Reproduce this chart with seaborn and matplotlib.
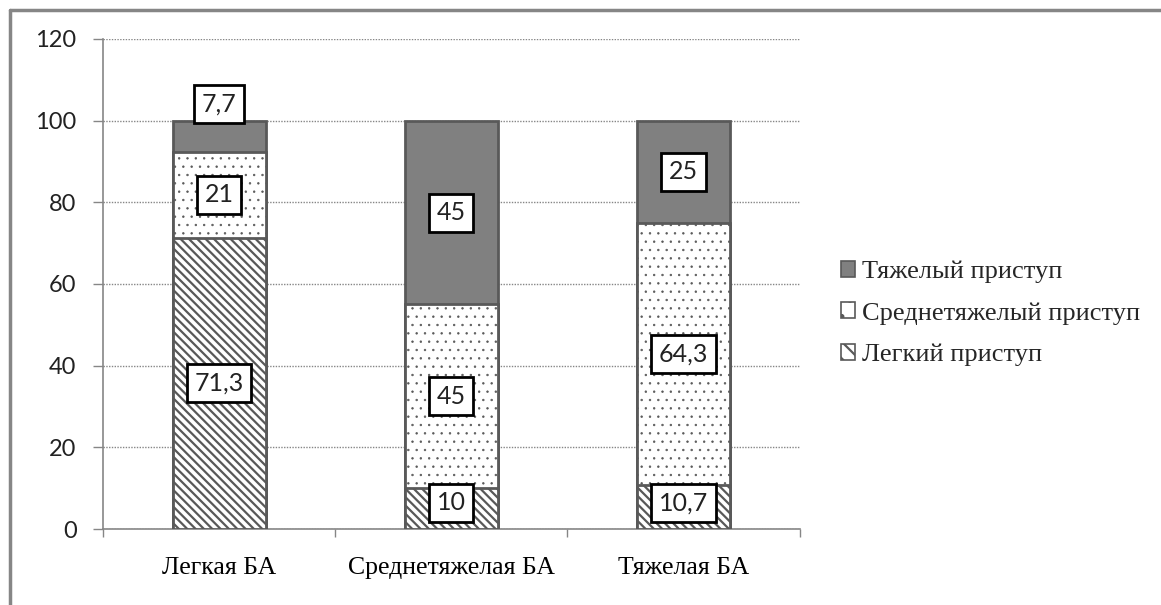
import numpy as np
import matplotlib
matplotlib.use("Agg")
import matplotlib.pyplot as plt
from matplotlib.patches import Patch
from matplotlib.lines import Line2D
import seaborn as sns

# data
categories = ["Легкая БА", "Среднетяжелая БА", "Тяжелая БА"]
light = [71.3, 10, 10.7]     # Легкий приступ
medium = [21, 45, 64.3]      # Среднетяжелый приступ
heavy = [7.7, 45, 25]        # Тяжелый приступ
label_text = {"light": ["71,3", "10", "10,7"],
              "medium": ["21", "45", "64,3"],
              "heavy": ["7,7", "45", "25"]}
legend_names = ["Тяжелый приступ", "Среднетяжелый приступ", "Легкий приступ"]
yticks = [0, 20, 40, 60, 80, 100, 120]

sns.set_theme(style="white")
plt.rcParams["hatch.color"] = "#404040"

edge = "#595959"
axis_grey = "#868686"
sans = ["Lato", "DejaVu Sans"]
serif = ["Liberation Serif", "DejaVu Serif"]

fig = plt.figure(figsize=(11.61, 6.05), dpi=100)
ax = fig.add_axes([0.0887, 0.1256, 0.6, 0.81])

light_a = np.array(light)
mid_top = light_a + np.array(medium)
total = mid_top + np.array(heavy)

# stacked look: draw cumulative heights from the top layer down
sns.barplot(x=categories, y=total, color="#808080", saturation=1, width=0.4,
            edgecolor=edge, linewidth=2, ax=ax, zorder=2)
plt.rcParams["hatch.linewidth"] = 0.5
sns.barplot(x=categories, y=mid_top, color="white", saturation=1, width=0.4,
            edgecolor=edge, linewidth=2, hatch="..", ax=ax, zorder=3)
plt.rcParams["hatch.linewidth"] = 1.6
sns.barplot(x=categories, y=light_a, color="white", saturation=1, width=0.4,
            edgecolor=edge, linewidth=2, hatch="\\\\\\\\", ax=ax, zorder=4)

box = dict(boxstyle="square,pad=0.3", fc="white", ec="black", lw=2)
for i in range(len(categories)):
    segs = [(0, light[i], label_text["light"][i]),
            (light[i], mid_top[i], label_text["medium"][i]),
            (mid_top[i], total[i], label_text["heavy"][i])]
    for k, (lo, hi, txt) in enumerate(segs):
        y = (lo + hi) / 2
        if hi - lo < 9 and k == 2:
            y = hi + 4
        y = max(y, 6.4)
        ax.text(i, y, txt, ha="center", va="center", fontsize=18,
                family=sans, color="#222222", bbox=box, zorder=6)

ax.set_ylim(0, 120)
ax.set_xlim(-0.5, 2.5)
ax.set_yticks(yticks)
ax.set_yticklabels([str(t) for t in yticks], family=sans, fontsize=17,
                   color="#222222")
ax.yaxis.grid(True, linestyle=(0, (1, 1)), color=axis_grey, linewidth=1)
ax.set_axisbelow(True)

ax.set_xticks([-0.5, 0.5, 1.5, 2.5])
ax.set_xticklabels([])
ax.set_xticks([0, 1, 2], minor=True)
ax.set_xticklabels(categories, minor=True, family=serif, fontsize=18.5,
                   color="black")
ax.tick_params(axis="x", which="major", direction="out", length=6,
               color=axis_grey, width=1, bottom=True)
ax.tick_params(axis="x", which="minor", length=0, pad=20)
ax.tick_params(axis="y", direction="out", length=7, color=axis_grey,
               width=1, left=True, pad=12)

for s in ["top", "right"]:
    ax.spines[s].set_visible(False)
for s in ["left", "bottom"]:
    ax.spines[s].set_color(axis_grey)
    ax.spines[s].set_linewidth(1.2)
ax.set_xlabel("")
ax.set_ylabel("")

handles = [Patch(facecolor="#808080", edgecolor=edge, lw=1.2),
           Patch(facecolor="white", edgecolor=edge, lw=1.2, hatch="."),
           Patch(facecolor="white", edgecolor=edge, lw=1.2, hatch="\\\\")]
ax.legend(handles, legend_names, loc="center left",
          bbox_to_anchor=(1.025, 0.44), frameon=False,
          prop={"family": serif, "size": 19},
          handlelength=0.55, handleheight=0.55, handletextpad=0.25,
          labelspacing=0.72)

# outer chart frame (left and top edges visible in the reference)
fx, fy = 10 / 1161, 1 - 10 / 605
fig.add_artist(Line2D([fx, fx], [0, fy], transform=fig.transFigure,
                      color=axis_grey, lw=2.5))
fig.add_artist(Line2D([fx, 1], [fy, fy], transform=fig.transFigure,
                      color=axis_grey, lw=2.5))

fig.savefig("out.png", dpi=100, facecolor="white")
